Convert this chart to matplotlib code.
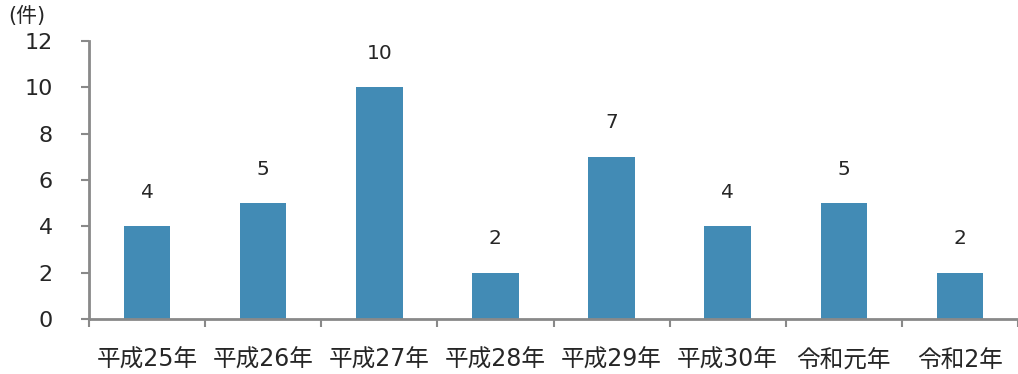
import numpy as np
import matplotlib.pyplot as plt

# DejaVu for digits (close to Verdana), Noto CJK for the kanji
plt.rcParams['font.family'] = ['DejaVu Sans', 'Noto Sans CJK JP']

years = ['平成25年', '平成26年', '平成27年', '平成28年', '平成29年', '平成30年', '令和元年', '令和2年']
counts = [4, 5, 10, 2, 7, 4, 5, 2]
y_ticks = [0, 2, 4, 6, 8, 10, 12]

bar_color = '#428bb5'
axis_color = '#898989'
text_color = '#262626'

fig = plt.figure(figsize=(10.18, 3.74), dpi=100)
ax = fig.add_axes([89 / 1018, 1 - 319 / 374, (1018 - 89) / 1018, (319 - 41) / 374])

x = np.arange(len(years))
bars = ax.bar(x, counts, width=0.4, color=bar_color, zorder=2)

# value labels above bars
for xi, v in zip(x, counts):
    ax.annotate(str(v), (xi, v), xytext=(0, 24.5), textcoords='offset points',
                ha='center', va='center', fontsize=14.5, color=text_color)

ax.set_xlim(-0.5, 7.46)
ax.set_ylim(0, 12)

# y axis
ax.set_yticks(y_ticks)
ax.set_yticklabels([str(t) for t in y_ticks], fontsize=16, color=text_color)
ax.tick_params(axis='y', direction='out', length=6, width=1.5, color=axis_color, pad=20)

# x axis: ticks at category boundaries, labels at centers
ax.set_xticks(np.arange(-0.5, len(years), 1.0))
ax.set_xticklabels([])
ax.tick_params(axis='x', which='major', direction='out', length=6, width=1.5, color=axis_color)
ax.set_xticks(x, minor=True)
ax.set_xticklabels(years, minor=True, fontsize=17, color=text_color)
ax.tick_params(axis='x', which='minor', length=0, pad=21)

for side in ['top', 'right']:
    ax.spines[side].set_visible(False)
for side in ['left', 'bottom']:
    ax.spines[side].set_color(axis_color)
    ax.spines[side].set_linewidth(2)

fig.text(8 / 1018, 1 - 16 / 374, '(件)', fontsize=15, color=text_color, ha='left', va='center')

fig.savefig('out.png', dpi=100)
